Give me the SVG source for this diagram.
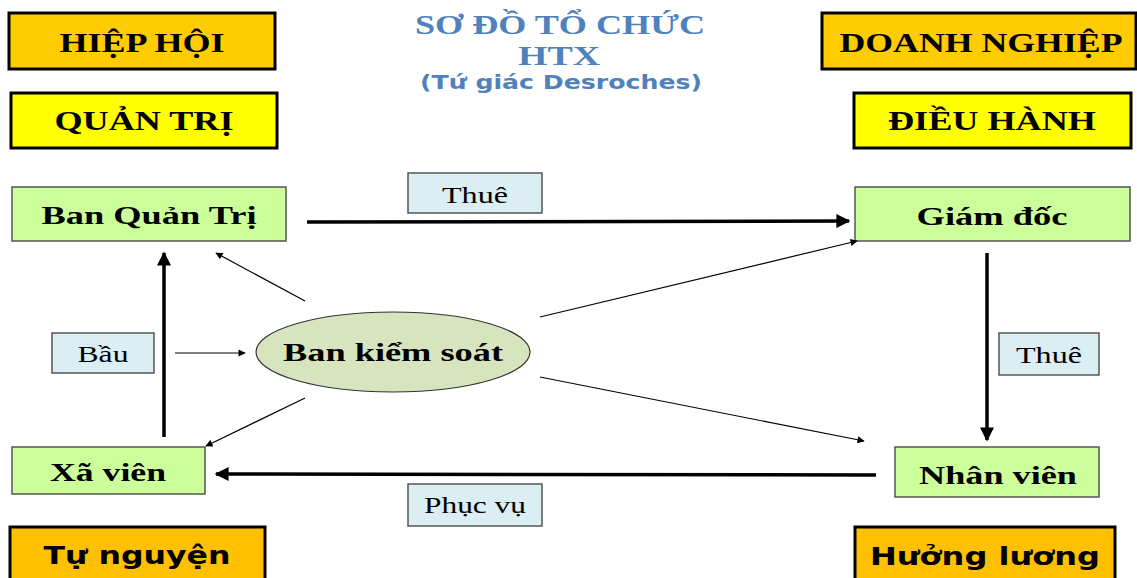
<svg xmlns="http://www.w3.org/2000/svg" width="1137" height="578" viewBox="0 0 1137 578">
<defs>
<style>
.cat{stroke:#000;stroke-width:3}
.orange{fill:#FFCC00}
.yellow{fill:#FFFF00}
.amber{fill:#FFC000}
.node{fill:#CCFF99;stroke:#555;stroke-width:1.5}
.lbl{fill:#DAEEF3;stroke:#555;stroke-width:1.5}
.serifb{font-family:"Liberation Serif","Times New Roman",serif;font-weight:bold;fill:#000}
.serif{font-family:"Liberation Serif","Times New Roman",serif;fill:#000}
.sansb{font-family:"DejaVu Sans",Verdana,sans-serif;font-weight:bold;fill:#000}
.title{font-family:"Liberation Serif","Times New Roman",serif;font-weight:bold;fill:#4F81BD}
.thick{stroke:#000;stroke-width:3.5;fill:none}
.thin{stroke:#000;stroke-width:1.2;fill:none}
</style>
<marker id="hThick" viewBox="0 0 10 10" refX="9" refY="5" markerWidth="4.5" markerHeight="4" orient="auto" markerUnits="strokeWidth">
<path d="M0,0 L10,5 L0,10 z" fill="#000"/>
</marker>
<marker id="hThin" viewBox="0 0 10 10" refX="9" refY="5" markerWidth="8" markerHeight="6" orient="auto" markerUnits="strokeWidth">
<path d="M0,0 L10,5 L0,10 z" fill="#000"/>
</marker>
</defs>
<rect width="1137" height="578" fill="#fff"/>

<g id="title">
<text class="title" x="560" y="34" font-size="27" text-anchor="middle" textLength="290" lengthAdjust="spacingAndGlyphs">SƠ ĐỒ TỔ CHỨC</text>
<text class="title" x="559" y="65" font-size="27" text-anchor="middle" textLength="82" lengthAdjust="spacingAndGlyphs">HTX</text>
<text x="561" y="89" font-size="19" text-anchor="middle" textLength="282" lengthAdjust="spacingAndGlyphs" style="font-family:'DejaVu Sans',Verdana,sans-serif;font-weight:bold;fill:#4F81BD">(Tứ giác Desroches)</text>
</g>

<g id="hiep-hoi">
<rect class="cat orange" x="9" y="13" width="266" height="56"/>
<text class="serifb" x="142" y="52" font-size="28" text-anchor="middle" textLength="165" lengthAdjust="spacingAndGlyphs">HIỆP HỘI</text>
</g>
<g id="quan-tri">
<rect class="cat yellow" x="11" y="93" width="266" height="55"/>
<text class="serifb" x="144" y="130" font-size="28" text-anchor="middle" textLength="179" lengthAdjust="spacingAndGlyphs">QUẢN TRỊ</text>
</g>
<g id="doanh-nghiep">
<rect class="cat orange" x="822" y="13" width="314" height="56"/>
<text class="serifb" x="981" y="52" font-size="28" text-anchor="middle" textLength="283" lengthAdjust="spacingAndGlyphs">DOANH NGHIỆP</text>
</g>
<g id="dieu-hanh">
<rect class="cat yellow" x="854" y="93" width="277" height="55"/>
<text class="serifb" x="992" y="130" font-size="28" text-anchor="middle" textLength="208" lengthAdjust="spacingAndGlyphs">ĐIỀU HÀNH</text>
</g>

<g id="ban-quan-tri">
<rect class="node" x="12" y="187" width="274" height="54"/>
<text class="serifb" x="149" y="224" font-size="26" text-anchor="middle" textLength="215" lengthAdjust="spacingAndGlyphs">Ban Quản Trị</text>
</g>
<g id="giam-doc">
<rect class="node" x="855" y="187" width="275" height="54"/>
<text class="serifb" x="992" y="225" font-size="26" text-anchor="middle" textLength="151" lengthAdjust="spacingAndGlyphs">Giám đốc</text>
</g>
<g id="xa-vien">
<rect class="node" x="12" y="447" width="193" height="47"/>
<text class="serifb" x="108" y="481" font-size="26" text-anchor="middle" textLength="116" lengthAdjust="spacingAndGlyphs">Xã viên</text>
</g>
<g id="nhan-vien">
<rect class="node" x="895" y="447" width="204" height="50"/>
<text class="serifb" x="998" y="484" font-size="26" text-anchor="middle" textLength="158" lengthAdjust="spacingAndGlyphs">Nhân viên</text>
</g>
<g id="ban-kiem-soat">
<ellipse cx="393" cy="352" rx="137" ry="40" fill="#D7E4BD" stroke="#333" stroke-width="1.2"/>
<text class="serifb" x="393" y="361" font-size="26" text-anchor="middle" textLength="220" lengthAdjust="spacingAndGlyphs">Ban kiểm soát</text>
</g>

<g id="tu-nguyen">
<rect class="cat amber" x="10" y="527" width="255" height="60"/>
<text class="sansb" x="137" y="564" font-size="24" text-anchor="middle" textLength="187" lengthAdjust="spacingAndGlyphs">Tự nguyện</text>
</g>
<g id="huong-luong">
<rect class="cat amber" x="855" y="527" width="260" height="60"/>
<text class="sansb" x="985" y="565" font-size="24" text-anchor="middle" textLength="230" lengthAdjust="spacingAndGlyphs">Hưởng lương</text>
</g>

<g id="connectors">
<line class="thick" x1="307" y1="222" x2="849" y2="221" marker-end="url(#hThick)"/>
<line class="thick" x1="987" y1="253" x2="987" y2="440" marker-end="url(#hThick)"/>
<line class="thick" x1="876" y1="475" x2="216" y2="474" marker-end="url(#hThick)"/>
<line class="thick" x1="164" y1="437" x2="164" y2="253" marker-end="url(#hThick)"/>
<line class="thin" x1="175" y1="353" x2="245" y2="353" marker-end="url(#hThin)"/>
<line class="thin" x1="305" y1="301" x2="216" y2="253" marker-end="url(#hThin)"/>
<line class="thin" x1="305" y1="398" x2="206" y2="446" marker-end="url(#hThin)"/>
<line class="thin" x1="540" y1="317" x2="857" y2="241" marker-end="url(#hThin)"/>
<line class="thin" x1="540" y1="377" x2="864" y2="441" marker-end="url(#hThin)"/>
</g>

<g id="label-thue-top">
<rect class="lbl" x="408" y="173" width="134" height="40"/>
<text class="serif" x="475" y="203" font-size="24" text-anchor="middle" textLength="66" lengthAdjust="spacingAndGlyphs">Thuê</text>
</g>
<g id="label-thue-right">
<rect class="lbl" x="999" y="333" width="100" height="42"/>
<text class="serif" x="1049" y="363" font-size="24" text-anchor="middle" textLength="66" lengthAdjust="spacingAndGlyphs">Thuê</text>
</g>
<g id="label-bau">
<rect class="lbl" x="52" y="333" width="102" height="40"/>
<text class="serif" x="103" y="362" font-size="24" text-anchor="middle" textLength="51" lengthAdjust="spacingAndGlyphs">Bầu</text>
</g>
<g id="label-phuc-vu">
<rect class="lbl" x="408" y="484" width="134" height="42"/>
<text class="serif" x="475" y="513" font-size="24" text-anchor="middle" textLength="102" lengthAdjust="spacingAndGlyphs">Phục vụ</text>
</g>
</svg>
